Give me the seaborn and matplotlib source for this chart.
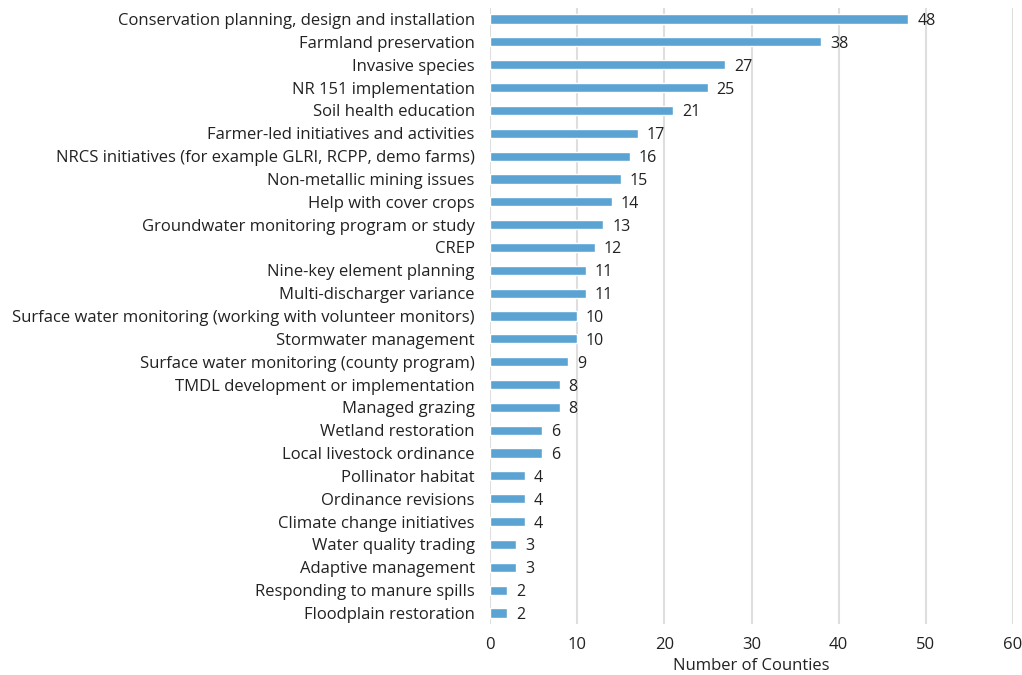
import matplotlib
matplotlib.use("Agg")
import matplotlib.pyplot as plt
import seaborn as sns
import pandas as pd

categories = [
    "Conservation planning, design and installation",
    "Farmland preservation",
    "Invasive species",
    "NR 151 implementation",
    "Soil health education",
    "Farmer-led initiatives and activities",
    "NRCS initiatives (for example GLRI, RCPP, demo farms)",
    "Non-metallic mining issues",
    "Help with cover crops",
    "Groundwater monitoring program or study",
    "CREP",
    "Nine-key element planning",
    "Multi-discharger variance",
    "Surface water monitoring (working with volunteer monitors)",
    "Stormwater management",
    "Surface water monitoring (county program)",
    "TMDL development or implementation",
    "Managed grazing",
    "Wetland restoration",
    "Local livestock ordinance",
    "Pollinator habitat",
    "Ordinance revisions",
    "Climate change initiatives",
    "Water quality trading",
    "Adaptive management",
    "Responding to manure spills",
    "Floodplain restoration",
]
counts = [48, 38, 27, 25, 21, 17, 16, 15, 14, 13, 12, 11, 11, 10, 10, 9, 8, 8, 6, 6, 4, 4, 4, 3, 3, 2, 2]
x_ticks = [0, 10, 20, 30, 40, 50, 60]

df = pd.DataFrame({"category": categories, "count": counts})

sns.set_theme(style="white")
plt.rcParams["font.family"] = ["Open Sans", "DejaVu Sans"]

fig = plt.figure(figsize=(10.22, 6.75), dpi=100)
ax = fig.add_axes([0.4795, 0.075, 0.5117, 0.9137])

sns.barplot(data=df, x="count", y="category", color="#5BA3D3", width=0.4,
            saturation=1, ax=ax, zorder=3)

for i, v in enumerate(counts):
    ax.text(v + 1.0, i, str(v), va="center_baseline", ha="left",
            fontsize=11.5, color="#222222")

ax.set_xlim(0, 60)
ax.set_ylim(len(categories) - 0.5, -0.5)
ax.set_xticks(x_ticks)
ax.set_xticklabels([str(t) for t in x_ticks])
ax.grid(axis="x", color="#dedede", linewidth=1.5, zorder=0)
ax.grid(axis="y", visible=False)
for s in ax.spines.values():
    s.set_visible(False)
ax.tick_params(axis="both", length=0, labelsize=12, labelcolor="#222222")
ax.tick_params(axis="y", pad=11)
ax.tick_params(axis="x", pad=9)
ax.set_ylabel("")
ax.set_xlabel("Number of Counties", fontsize=12, color="#222222", labelpad=4)

fig.savefig("out.png", dpi=100)
